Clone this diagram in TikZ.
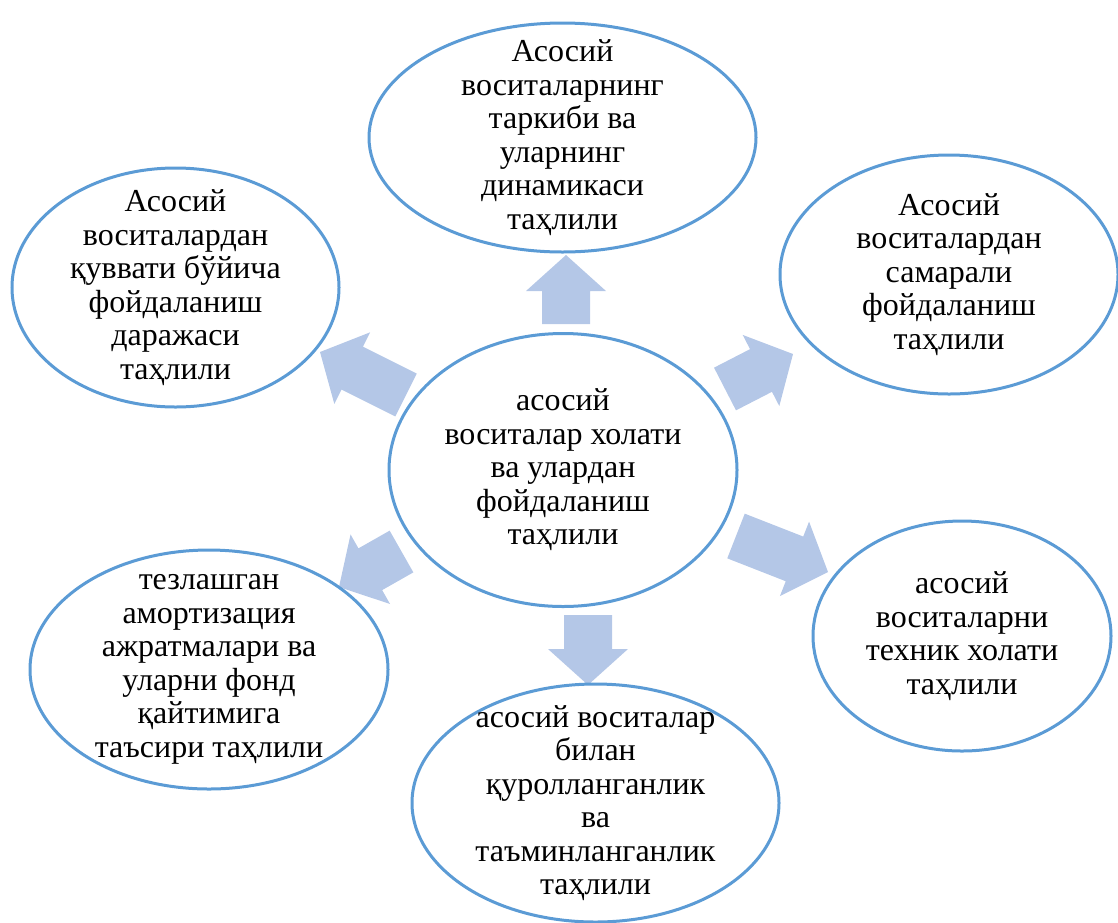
\documentclass[tikz,border=0pt]{standalone}
\usepackage{fontspec}
\setmainfont{Liberation Serif}
\usetikzlibrary{calc,shapes.geometric}
\definecolor{ellline}{HTML}{5B9BD5}
\definecolor{arrfill}{HTML}{B4C7E7}
\tikzset{
  ell/.style={ellipse, draw=ellline, line width=3pt, fill=white, inner sep=0pt},
  txt/.style={align=center, inner sep=0pt, font=\fontsize{32}{33.5}\selectfont},
  arrowfill/.style={fill=arrfill, draw=none}
}
\newcommand{\blockarrow}[3]{%
  \coordinate (#3h) at ($(#2)!36pt!(#1)$);
  \fill[arrowfill] ($(#1)!24pt!90:(#2)$) -- ($(#3h)!24pt!90:(#2)$) -- ($(#3h)!40pt!90:(#2)$) -- (#2) -- ($(#3h)!40pt!-90:(#2)$) -- ($(#3h)!24pt!-90:(#2)$) -- ($(#1)!24pt!-90:(#2)$) -- cycle;
}
\begin{document}
\begin{tikzpicture}[x=1pt,y=-1pt]
\useasboundingbox (0,0) rectangle (1118,922);
% arrow end points
\coordinate (t1) at (566,324); \coordinate (p1) at (566,255);
\coordinate (t2) at (588,615); \coordinate (p2) at (588,685);
\coordinate (t3) at (406,395); \coordinate (p3) at (320,352);
\coordinate (t4) at (725,389); \coordinate (p4) at (793,354);
\coordinate (t5) at (401.5,551.5); \coordinate (p5) at (339,587);
\coordinate (t6) at (736,536); \coordinate (p6) at (828,572);
\blockarrow{t1}{p1}{a1}
\blockarrow{t2}{p2}{a2}
\blockarrow{t3}{p3}{a3}
\blockarrow{t4}{p4}{a4}
\blockarrow{t5}{p5}{a5}
\blockarrow{t6}{p6}{a6}
% ellipses
\node[ell, minimum width=387, minimum height=229] (top) at (562.5,137.5) {};
\node[ell, minimum width=327, minimum height=239] (ul) at (175.5,287.5) {};
\node[ell, minimum width=338, minimum height=239] (ur) at (949,274.5) {};
\node[ell, minimum width=348, minimum height=273] (c) at (563,470) {};
\node[ell, minimum width=298, minimum height=230] (lr) at (962,636) {};
\node[ell, minimum width=367, minimum height=238] (bot) at (595.5,803) {};
\node[ell, minimum width=358, minimum height=239] (ll) at (209,669.5) {};
% texts
\node[txt] (topt) at (top) {Асосий\\воситаларнинг\\таркиби ва\\уларнинг\\динамикаси\\таҳлили};
\node[txt] (ult) at (ul) {Асосий\\воситалардан\\қуввати бўйича\\фойдаланиш\\даражаси\\таҳлили};
\node[txt] (urt) at (ur) {Асосий\\воситалардан\\самарали\\фойдаланиш\\таҳлили};
\node[txt] (ct) at (c) {асосий\\воситалар холати\\ва улардан\\фойдаланиш\\таҳлили};
\node[txt] (lrt) at (lr) {асосий\\воситаларни\\техник холати\\таҳлили};
\node[txt] (bott) at (bot) {асосий воситалар\\билан\\қуролланганлик\\ва\\таъминланганлик\\таҳлили};
\node[txt] (llt) at (ll) {тезлашган\\амортизация\\ажратмалари ва\\уларни фонд\\қайтимига\\таъсири таҳлили};
\end{tikzpicture}
\end{document}
